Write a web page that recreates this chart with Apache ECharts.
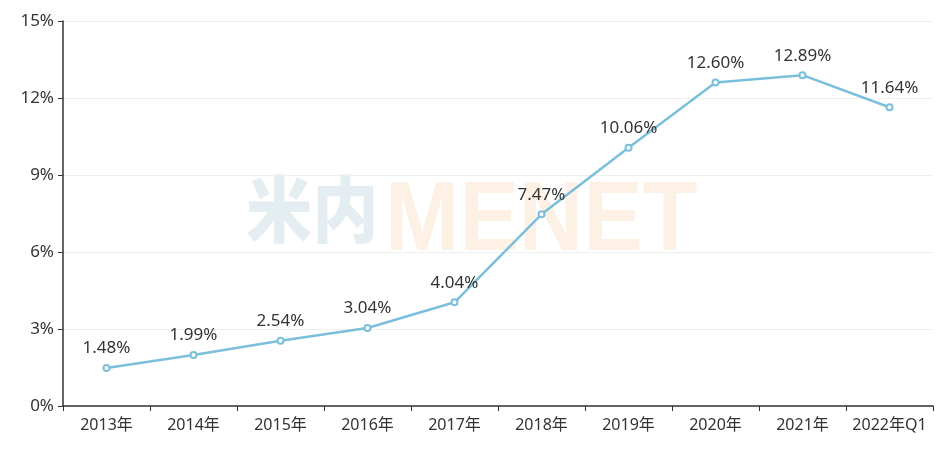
<!DOCTYPE html>
<html><head><meta charset="utf-8">
<script src="https://cdn.jsdelivr.net/npm/echarts@6/dist/echarts.min.js"></script>
<style>html,body{margin:0;padding:0;background:#fff}#c{width:950px;height:466px}</style>
</head><body><div id="c"></div>
<script>
var categories = ['2013年','2014年','2015年','2016年','2017年','2018年','2019年','2020年','2021年','2022年Q1'];
var values = [1.48, 1.99, 2.54, 3.04, 4.04, 7.47, 10.06, 12.60, 12.89, 11.64];
var font = '"Noto Sans","Noto Sans CJK SC",sans-serif';
var chart = echarts.init(document.getElementById('c'));
chart.setOption({
  animation: false,
  grid: {left: 63, right: 17, top: 21, bottom: 60},
  graphic: [
    {type:'text', x: 246, y: 173, scaleX: 0.92, z: 0, style:{text:'米内', font:'900 72px "Noto Sans CJK SC"', fill:'#e4eef2'}},
    {type:'text', x: 385, y: 174, scaleX: 0.91, z: 0, style:{text:'MENET', font:'bold 98px "Liberation Sans"', fill:'#fdf0e5'}}
  ],
  xAxis: {
    type: 'category', data: categories, boundaryGap: true,
    axisLine: {lineStyle: {color: '#333', width: 1.5}},
    axisTick: {show: true, length: 5, lineStyle: {color: '#333'}},
    axisLabel: {color: '#333', fontSize: 16, fontFamily: font, margin: 11, interval: 0}
  },
  yAxis: {
    type: 'value', min: 0, max: 15, interval: 3,
    axisLine: {show: true, lineStyle: {color: '#333', width: 1.5}},
    axisTick: {show: true, length: 5, lineStyle: {color: '#333'}},
    axisLabel: {color: '#333', fontSize: 17, fontFamily: font, formatter: '{value}%', margin: 9},
    splitLine: {lineStyle: {color: '#eeeeee'}}
  },
  series: [{
    type: 'line', data: values, symbol: 'emptyCircle', symbolSize: 6,
    lineStyle: {color: '#7bbfdc', width: 2.5},
    itemStyle: {color: '#7bbfdc'},
    label: {show: true, position: 'top', distance: 7, color: '#333', fontSize: 17, fontFamily: font,
      formatter: function(p){ return p.value.toFixed(2) + '%'; }}
  }]
});
</script></body></html>
